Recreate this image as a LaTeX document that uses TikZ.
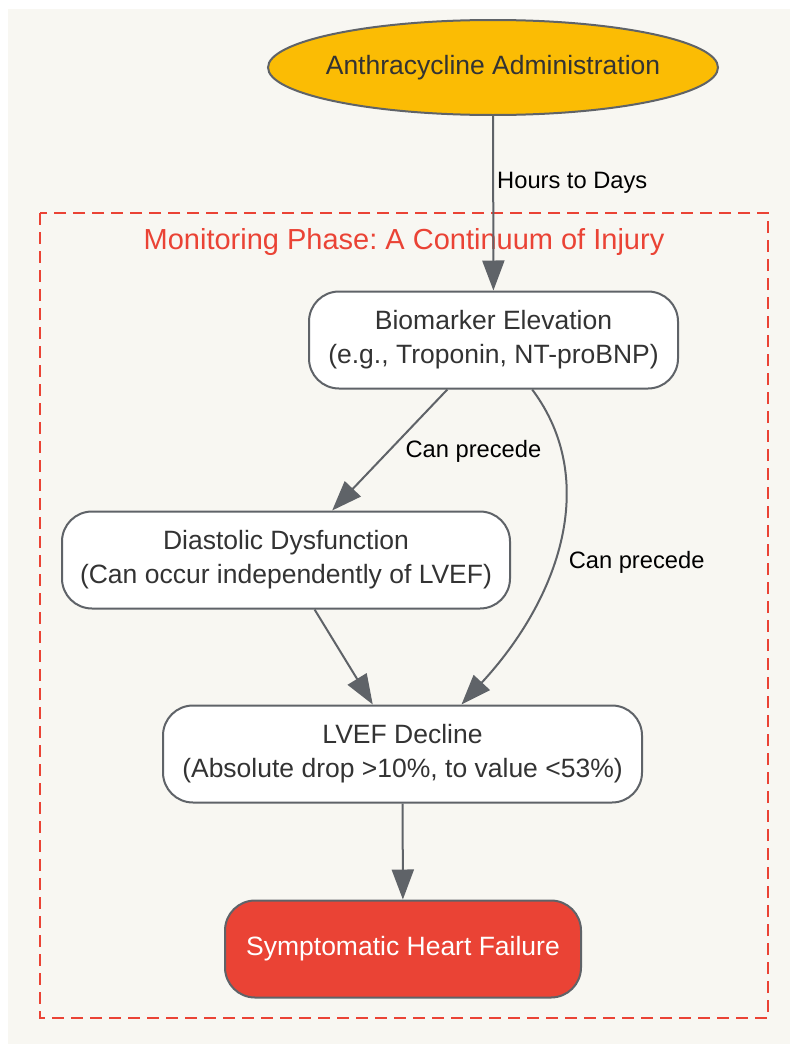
\documentclass[tikz,border=0pt]{standalone}
\usepackage{fontspec}
\setmainfont{Liberation Sans}
\usetikzlibrary{arrows.meta,shapes.geometric}
\frenchspacing

\definecolor{paper}{HTML}{F8F7F2}
\definecolor{rim}{HTML}{5F6368}
\definecolor{gold}{HTML}{FBBC04}
\definecolor{alert}{HTML}{EA4335}
\definecolor{ink}{HTML}{333333}

\tikzset{
			start/.style={ellipse, draw=rim, line width=2pt, fill=gold, text=ink, minimum width=450pt, minimum height=95pt, inner xsep=-40pt, inner ysep=-10pt, font=\fontsize{26.5}{34}\selectfont},
			box/.style={rectangle, rounded corners=30pt, draw=rim, line width=2pt, fill=white, text=ink, minimum height=97pt, inner sep=0pt, align=center, font=\fontsize{26.5}{34}\selectfont},
			alarm/.style={box, fill=alert, text=white},
			link/.style={draw=rim, line width=2pt, -{Triangle[length=30pt, width=22pt]}},
			note/.style={font=\fontsize{23.7}{28}\selectfont, inner sep=2pt, text=black}
		}

\begin{document}
\begin{tikzpicture}[x=1pt, y=-1pt]

			% Page and phase frame
			\useasboundingbox[fill=white] (0, 0) rectangle (790, 1044);
			\fill[paper] (8, 9) rectangle (790, 1044);
			\draw[alert, line width=2pt, dash pattern=on 12pt off 7pt] (40, 213) rectangle (768, 1018);
			\node[text=alert, font=\fontsize{29}{34}\selectfont] (phase) at (404, 242) {Monitoring Phase: A Continuum of Injury};

			% Define nodes top to bottom
			\node[start] (drug) at (493, 67.5) {Anthracycline Administration};
			\node[box, minimum width=369pt] (bio) at (493.5, 340) {Biomarker Elevation\\(e.g., Troponin, NT-proBNP)};
			\node[box, minimum width=448pt] (dia) at (286, 560) {Diastolic Dysfunction\\(Can occur independently of LVEF)};
			\node[box, minimum width=479pt] (lvef) at (402.5, 754) {LVEF Decline\\(Absolute drop >10\%, to value <53\%)};
			\node[alarm, minimum width=356pt] (hf) at (403, 949) {Symptomatic Heart Failure};

			% Draw directed links with labels
			\draw[link] (drug) -- (bio) node[note, pos=0.38, anchor=west, xshift=1pt] {Hours to Days};
			\draw[link] (bio.-133) -- (dia.47) node[note, pos=0.51, anchor=west, xshift=14pt] {Can precede};
			\draw[link] (bio.-52) .. controls (600, 480) and (560, 598) .. (lvef.40) node[note, pos=0.565, anchor=west, xshift=13pt] {Can precede};
			\draw[link] (dia.-60) -- (lvef.121);
			\draw[link] (lvef) -- (hf);

		\end{tikzpicture}
\end{document}
